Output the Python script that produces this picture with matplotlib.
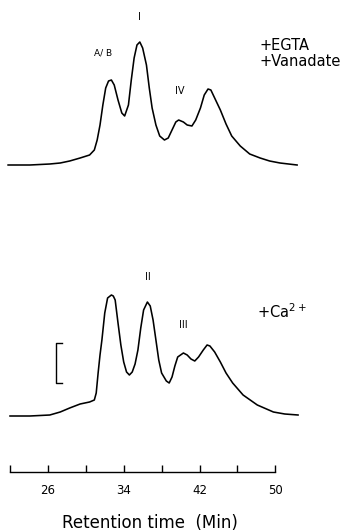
import matplotlib
matplotlib.use("Agg")
import matplotlib.pyplot as plt

# ---- data (retention time in min, detector signal in arbitrary units) ----
egta_time = [21.8, 24.1, 26.2, 27.3, 28.3, 29.4, 30.4, 30.9, 31.2, 31.5,
             31.8, 32.1, 32.4, 32.7, 33.0, 33.4, 33.8, 34.1, 34.5, 34.8,
             35.1, 35.4, 35.7, 36.0, 36.4, 36.7, 37.0, 37.4, 37.8, 38.3,
             38.7, 39.1, 39.5, 39.8, 40.3, 40.7, 41.2, 41.6, 42.1, 42.5,
             42.9, 43.2, 43.6, 44.2, 44.8, 45.4, 46.3, 47.3, 48.4, 49.4,
             50.5, 52.3]
egta_signal = [0, 0, 1, 2, 4, 7, 10, 15, 25, 40,
               60, 77, 84, 85, 80, 65, 52, 49, 60, 85,
               107, 120, 123, 117, 100, 77, 57, 40, 29, 25,
               27, 35, 43, 45, 43, 40, 39, 45, 57, 70,
               76, 75, 67, 55, 41, 29, 19, 11, 7, 4,
               2, 0]

ca_time = [22.0, 24.1, 26.2, 27.3, 28.3, 29.4, 30.4, 30.9, 31.1, 31.3,
           31.5, 31.7, 32.0, 32.3, 32.7, 32.9, 33.1, 33.4, 33.7, 34.0,
           34.3, 34.6, 34.9, 35.2, 35.5, 35.8, 36.1, 36.5, 36.8, 37.1,
           37.4, 37.7, 38.0, 38.5, 38.8, 39.1, 39.4, 39.7, 40.3, 40.7,
           41.1, 41.5, 41.9, 42.4, 42.8, 43.1, 43.6, 44.2, 44.8, 45.5,
           46.6, 48.1, 49.8, 51.0, 52.4]
ca_signal = [0, 0, 1, 4, 8, 12, 14, 16, 23, 43,
             61, 76, 103, 118, 121, 120, 116, 93, 71, 54,
             44, 41, 44, 52, 66, 88, 106, 114, 110, 96,
             76, 56, 43, 35, 33, 39, 50, 59, 63, 61,
             57, 55, 59, 66, 71, 70, 64, 54, 43, 33,
             21, 11, 4, 2, 1]

tick_positions = [22, 26, 30, 34, 38, 42, 46, 50]
tick_labels = ["", "26", "", "34", "", "42", "", "50"]

# ---- figure ----
W, H = 345, 532
fig = plt.figure(figsize=(W / 100, H / 100), dpi=100)
# axes: x 21..54 min, y in pixel-like units measured up from the time axis
px_per_min = 9.475
x0_px = 10 - (22 - 21) * px_per_min
x1_px = 10 + (54 - 22) * px_per_min
ax = fig.add_axes([x0_px / W, (H - 472) / H, (x1_px - x0_px) / W, 472 / H])
ax.set_xlim(21, 54)
ax.set_ylim(0, 472)

top_offset = 307
bottom_offset = 56
lw = 1.15
ax.plot(egta_time, [top_offset + s for s in egta_signal], color="black", lw=lw,
        solid_joinstyle="round")
ax.plot(ca_time, [bottom_offset + s for s in ca_signal], color="black", lw=lw,
        solid_joinstyle="round")

# scale bracket
bx, bx2, by0, by1 = 26.85, 27.5, 89, 129
ax.plot([bx2, bx, bx, bx2], [by1, by1, by0, by0], color="black", lw=1.0)

# spines / ticks
for s in ["top", "right", "left"]:
    ax.spines[s].set_visible(False)
ax.spines["bottom"].set_bounds(22, 50)
ax.spines["bottom"].set_linewidth(1.0)
ax.set_yticks([])
ax.set_xticks(tick_positions)
ax.set_xticklabels(tick_labels)
ax.tick_params(axis="x", direction="in", length=5, width=1.0, pad=9,
               labelsize=8.5)
ax.set_xlabel("Retention time  (Min)", fontsize=12)
ax.xaxis.set_label_coords((150 - x0_px) / (x1_px - x0_px), -0.088)

# annotations
ax.text(35.7, 455, "I", ha="center", va="center", fontsize=7)
ax.text(31.8, 419, "A/ B", ha="center", va="center", fontsize=6.5)
ax.text(39.9, 381, "IV", ha="center", va="center", fontsize=7)
ax.text(48.3, 427, "+EGTA", ha="left", va="center", fontsize=10.5)
ax.text(48.3, 410, "+Vanadate", ha="left", va="center", fontsize=10.5)
ax.text(36.5, 195, "II", ha="center", va="center", fontsize=7)
ax.text(40.3, 147, "III", ha="center", va="center", fontsize=7)
ax.text(48.1, 160, r"+Ca$^{2+}$", ha="left", va="center", fontsize=10.5)

fig.savefig("out.png", dpi=100)
